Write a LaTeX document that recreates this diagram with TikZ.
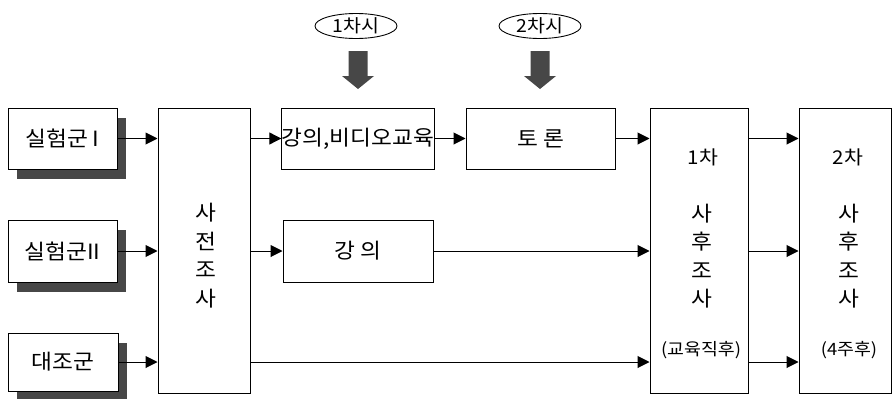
\documentclass[tikz,border=0pt]{standalone}
\usepackage{fontspec}
\setmainfont{Noto Sans CJK KR}[FakeStretch=1.08]
\usetikzlibrary{arrows.meta,shapes.geometric,shadows}
\begin{document}
\begin{tikzpicture}[x=1pt,y=-1pt,
  box/.style={draw, line width=1pt, fill=white, inner sep=0pt},
  grp/.style={box, drop shadow={shadow xshift=9pt, shadow yshift=-10pt, fill=black!72, opacity=1}},
  arr/.style={line width=1pt, -{Triangle[length=12pt,width=12pt]}},
  big/.style={font=\fontsize{21}{28.5}\selectfont},
  mid/.style={font=\fontsize{19}{22}\selectfont},
  sml/.style={font=\fontsize{17}{20}\selectfont},
  sess/.style={ellipse, draw, line width=0.9pt, minimum width=82pt, minimum height=25pt, inner sep=0pt, font=\fontsize{18}{20}\selectfont},
  blk/.style={fill=black!72},
  blockarrow/.pic={\fill[blk] (-9.5,0) -- (9.5,0) -- (9.5,25) -- (16,25) -- (0,38) -- (-16,25) -- (-9.5,25) -- cycle;}
]
\useasboundingbox (0,0) rectangle (892,399);

% session ellipses and block arrows
\node[sess] (s1) at (356,26) {1차시};
\node[sess] (s2) at (540,26) {2차시};
\pic at (358,51) {blockarrow};
\pic at (540,51) {blockarrow};

% groups
\node[grp, big, minimum width=109pt, minimum height=61pt] (g1) at (62.5,138.5) {실험군 I};
\node[grp, big, minimum width=109pt, minimum height=62pt] (g2) at (62.5,251) {실험군II};
\node[grp, big, minimum width=110pt, minimum height=58pt] (g3) at (63,362) {대조군};

% pre-survey
\node[box, minimum width=92pt, minimum height=285pt] (pre) at (204,250.5) {};
\node[big, align=center] (pret) at (206,255.5) {사\\전\\조\\사};

% treatments
\node[box, big, minimum width=150pt, minimum height=61pt] (lec1) at (358,138.5) {강의,비디오교육};
\node[box, big, minimum width=149pt, minimum height=61pt] (disc) at (540.5,138.5) {토 론};
\node[box, big, minimum width=150pt, minimum height=62pt] (lec2) at (358,251) {강 의};

% post-surveys
\node[box, minimum width=98pt, minimum height=285pt] (post1) at (699,250.5) {};
\node[mid] (p1a) at (703,157) {1차};
\node[big, align=center] (p1b) at (702,256) {사\\후\\조\\사};
\node[sml] (p1c) at (701,350) {(교육직후)};

\node[box, minimum width=92pt, minimum height=285pt] (post2) at (845,250.5) {};
\node[mid] (p2a) at (848,157) {2차};
\node[big, align=center] (p2b) at (849,256) {사\\후\\조\\사};
\node[sml] (p2c) at (849,350) {(4주후)};

% connectors
\draw[arr] (g1.east) -- (g1.east -| pre.west);
\draw[arr] (g2.east) -- (g2.east -| pre.west);
\draw[arr] (g3.east) -- (g3.east -| pre.west);
\draw[arr] (pre.east |- lec1.west) -- (lec1.west);
\draw[arr] (lec1.east) -- (disc.west);
\draw[arr] (disc.east) -- (disc.east -| post1.west);
\draw[arr] (pre.east |- lec2.west) -- (lec2.west);
\draw[arr] (lec2.east) -- (lec2.east -| post1.west);
\draw[arr] (pre.east |- g3.east) -- (post1.west |- g3.east);
\draw[arr] (post1.east |- disc.east) -- (post2.west |- disc.east);
\draw[arr] (post1.east |- lec2.east) -- (post2.west |- lec2.east);
\draw[arr] (post1.east |- g3.east) -- (post2.west |- g3.east);
\end{tikzpicture}
\end{document}
